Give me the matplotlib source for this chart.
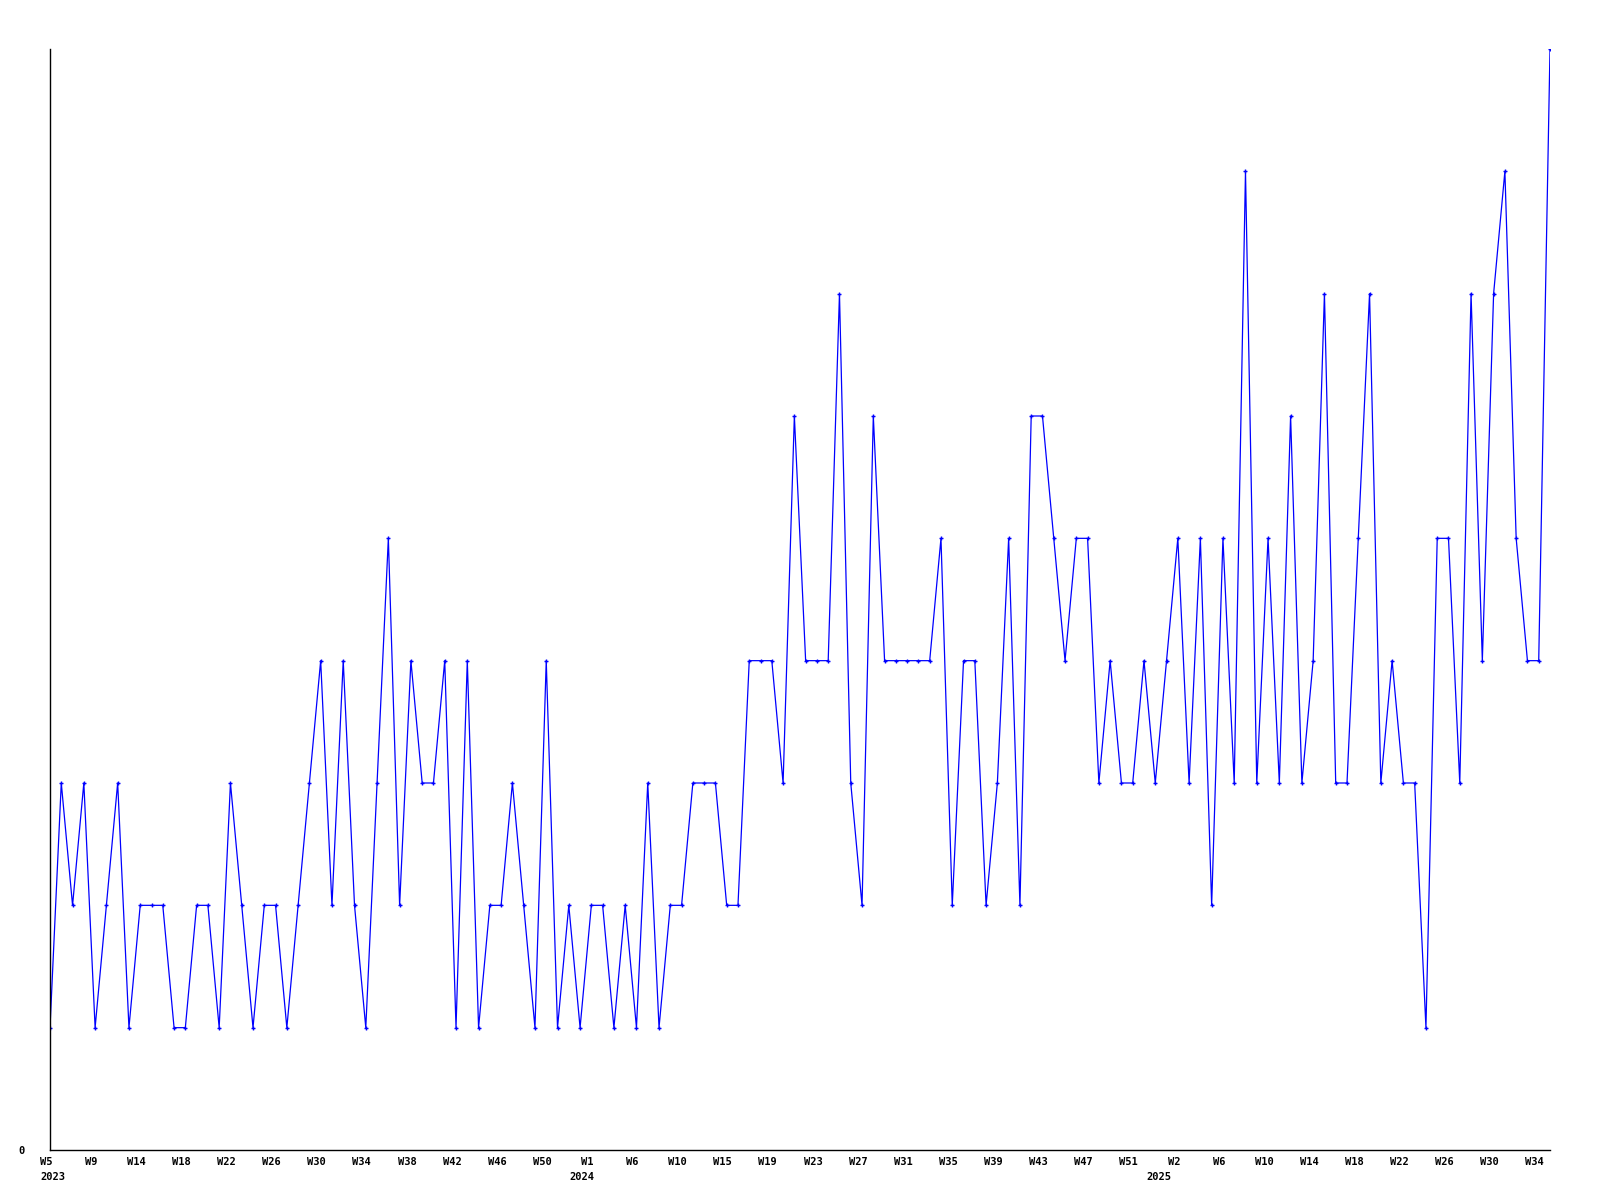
"""
Weekly counts line chart (2023 W5 .. 2025 W35).
"""

import numpy as np
import matplotlib
matplotlib.use("Agg")
import matplotlib.pyplot as plt
import matplotlib.transforms as mtransforms

matplotlib.rcParams.update({
    "font.family": "DejaVu Sans Mono",
    "font.weight": "bold",
    "font.size": 7.5,
})

# weekly values
VALUES = [
    1, 3, 2, 3, 1, 2, 3, 1, 2, 2, 2, 1, 1, 2, 2, 1, 3,
    2, 1, 2, 2, 1, 2, 3, 4, 2, 4, 2, 1, 3, 5, 2, 4,
    3, 3, 4, 1, 4, 1, 2, 2, 3, 2, 1, 4, 1, 2, 1, 2, 2,
    1, 2, 1, 3, 1, 2, 2, 3, 3, 3, 2, 2, 4, 4, 4, 3,
    6, 4, 4, 4, 7, 3, 2, 6, 4, 4, 4, 4, 4, 5, 2, 4, 4,
    2, 3, 5, 2, 6, 6, 5, 4, 5, 5, 3, 4, 3, 3, 4, 3,
    4, 5, 3, 5, 2, 5, 3, 8, 3, 5, 3, 6, 3, 4, 7, 3,
    3, 5, 7, 3, 4, 3, 3, 1, 5, 5, 3, 7, 4, 7, 8, 5, 4, 4, 9,
]

# one label every 4th week
WEEK_LABELS = [
    "W5", "W9", "W14", "W18", "W22", "W26", "W30", "W34", "W38", "W42",
    "W46", "W50", "W1", "W6", "W10", "W15", "W19", "W23", "W27", "W31",
    "W35", "W39", "W43", "W47", "W51", "W2", "W6", "W10", "W14", "W18",
    "W22", "W26", "W30", "W34",
]
YEARS = ["2023", "2024", "2025"]
YEAR_POS = [0.25, 47.2, 98.3]


def main():
    fig = plt.figure(figsize=(16, 12), dpi=100)
    ax = fig.add_axes([50 / 1600, 1 - 1150 / 1200, 1500 / 1600, 1101 / 1200])

    x = np.arange(len(VALUES))
    ax.plot(x, VALUES, color="#0000ff", linewidth=0.9,
            marker="+", markersize=3.2, markeredgewidth=1.0)

    ax.set_xlim(0, len(VALUES) - 1)
    ax.set_ylim(0, 9)

    ticks = np.arange(0, len(VALUES), 4)[:len(WEEK_LABELS)]
    ax.set_xticks(ticks)
    ax.set_xticklabels(WEEK_LABELS)
    ax.set_yticks([0])
    ax.set_yticklabels(["0"])
    ax.tick_params(axis="x", length=0, pad=5)
    ax.tick_params(axis="y", length=0, pad=18)

    shift = mtransforms.ScaledTranslation(-4 / 100, 0, fig.dpi_scale_trans)
    for lbl in ax.get_xticklabels():
        lbl.set_transform(lbl.get_transform() + shift)

    for year, pos in zip(YEARS, YEAR_POS):
        ax.annotate(year, xy=(pos, 0), xycoords=("data", "axes fraction"),
                    xytext=(0, -27), textcoords="offset pixels",
                    ha="center", va="center")

    for side in ["top", "right"]:
        ax.spines[side].set_visible(False)
    for side in ["left", "bottom"]:
        ax.spines[side].set_linewidth(1.0)
        ax.spines[side].set_color("black")

    fig.savefig("out.png", dpi=100)
    plt.close(fig)


if __name__ == "__main__":
    main()
